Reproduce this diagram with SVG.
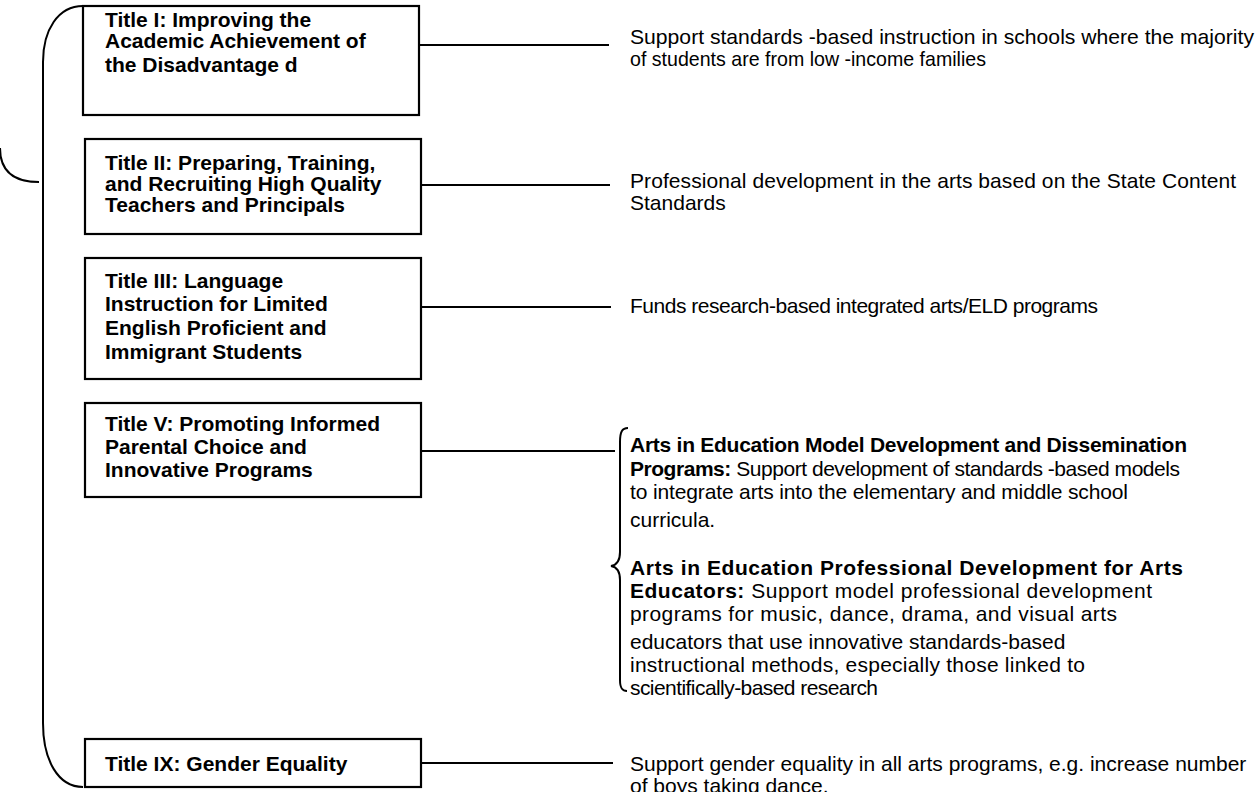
<svg xmlns="http://www.w3.org/2000/svg" width="1260" height="792" viewBox="0 0 1260 792">
<style>
.box{fill:#fff;stroke:#000;stroke-width:2.2}
.t{font-family:"Liberation Sans",Arial,sans-serif;font-size:21px;fill:#000}
.b{font-weight:bold}
.ln{stroke:#000;stroke-width:2;fill:none}
.br{stroke:#000;stroke-width:2;fill:none}
</style>
<rect width="1260" height="792" fill="#fff"/>
<g id="brackets">
<path class="br" d="M83 6 C58 6 43 30 43 62 L43 723 C43 760 58 787 83 787"/>
<path class="br" d="M0 148 C0 172 14 182 39 182"/>
<path class="br" d="M628 428 C622 428 620 432 620 442 L620 552 C620 560 617 565 611 566 C617 567 620 572 620 580 L620 680 C620 688 622 691 627 691"/>
</g>
<g id="connectors">
<line class="ln" x1="419" y1="45" x2="609" y2="45"/>
<line class="ln" x1="421" y1="185" x2="610" y2="185"/>
<line class="ln" x1="421" y1="307" x2="611" y2="307"/>
<line class="ln" x1="421" y1="451" x2="615" y2="451"/>
<line class="ln" x1="421" y1="763" x2="613" y2="763"/>
</g>
<g id="title1">
<rect class="box" x="83" y="6" width="336" height="109"/>
<text class="t b" x="105" y="27">Title I: Improving the</text>
<text class="t b" x="105" y="48">Academic Achievement of</text>
<text class="t b" x="105" y="72">the Disadvantage d</text>
</g>
<g id="title2">
<rect class="box" x="85" y="139" width="336" height="95"/>
<text class="t b" x="105" y="170">Title II: Preparing, Training,</text>
<text class="t b" x="105" y="191">and Recruiting High Quality</text>
<text class="t b" x="105" y="212">Teachers and Principals</text>
</g>
<g id="title3">
<rect class="box" x="85" y="258" width="336" height="121"/>
<text class="t b" x="105" y="288">Title III: Language</text>
<text class="t b" x="105" y="311">Instruction for Limited</text>
<text class="t b" x="105" y="335">English Proficient and</text>
<text class="t b" x="105" y="359">Immigrant Students</text>
</g>
<g id="title5">
<rect class="box" x="85" y="403" width="336" height="94"/>
<text class="t b" x="105" y="431">Title V: Promoting Informed</text>
<text class="t b" x="105" y="454">Parental Choice and</text>
<text class="t b" x="105" y="477">Innovative Programs</text>
</g>
<g id="title9">
<rect class="box" x="85" y="739" width="336" height="48"/>
<text class="t b" x="105" y="771">Title IX: Gender Equality</text>
</g>
<g id="desc1">
<text class="t" x="630" y="44" textLength="624" lengthAdjust="spacingAndGlyphs">Support standards -based instruction in schools where the majority</text>
<text class="t" x="630" y="66" textLength="356" lengthAdjust="spacingAndGlyphs">of students are from low -income families</text>
</g>
<g id="desc2">
<text class="t" x="630" y="188" textLength="606">Professional development in the arts based on the State Content</text>
<text class="t" x="630" y="210">Standards</text>
</g>
<g id="desc3">
<text class="t" x="630" y="313" textLength="468">Funds research-based integrated arts/ELD programs</text>
</g>
<g id="desc5">
<text class="t" x="630" y="452" textLength="557"><tspan class="b">Arts in Education Model Development and Dissemination</tspan></text>
<text class="t" x="630" y="476" textLength="550"><tspan class="b">Programs:</tspan> Support development of standards -based models</text>
<text class="t" x="630" y="499" textLength="498">to integrate arts into the elementary and middle school</text>
<text class="t" x="630" y="527">curricula.</text>
<text class="t" x="630" y="575" textLength="553"><tspan class="b">Arts in Education Professional Development for Arts</tspan></text>
<text class="t" x="630" y="598" textLength="522"><tspan class="b">Educators:</tspan> Support model professional development</text>
<text class="t" x="630" y="621" textLength="487">programs for music, dance, drama, and visual arts</text>
<text class="t" x="630" y="649">educators that use innovative standards-based</text>
<text class="t" x="630" y="672" textLength="455">instructional methods, especially those linked to</text>
<text class="t" x="630" y="695" textLength="248">scientifically-based research</text>
</g>
<g id="desc9">
<text class="t" x="630" y="771">Support gender equality in all arts programs, e.g. increase number</text>
<text class="t" x="630" y="793">of boys taking dance.</text>
</g>
</svg>
